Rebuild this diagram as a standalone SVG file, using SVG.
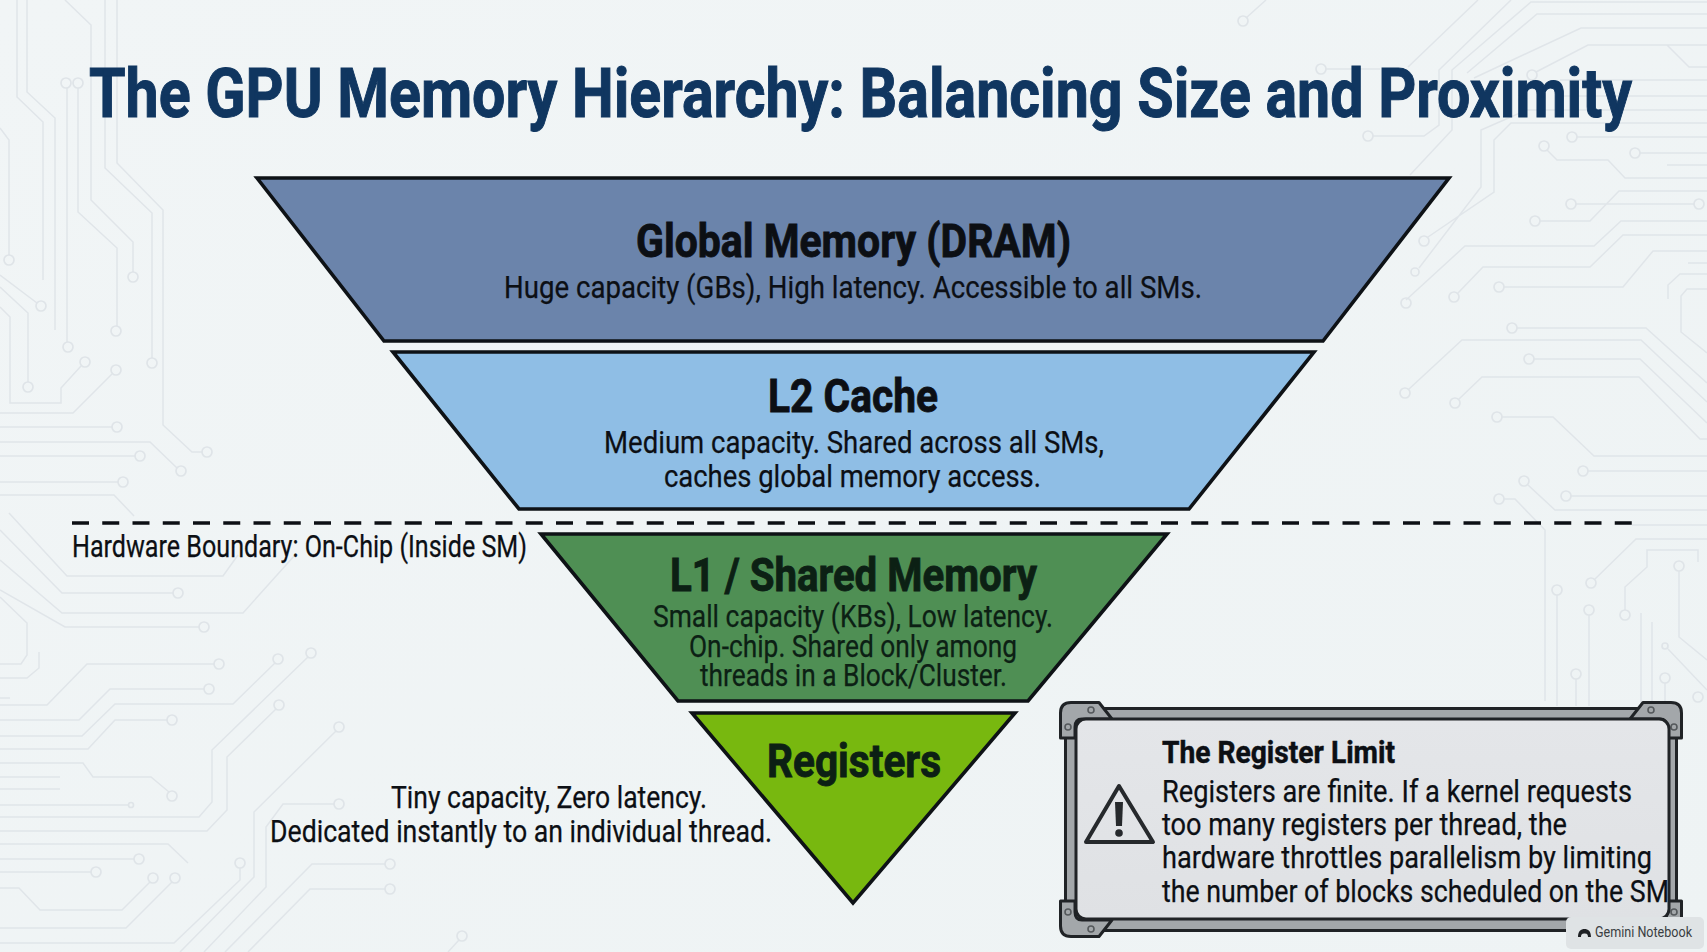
<svg xmlns="http://www.w3.org/2000/svg" width="1707" height="952" viewBox="0 0 1707 952">
<style>
text{font-family:Roboto,"Liberation Sans",sans-serif;fill:#0c0f14}
.h{font-size:47px;font-weight:700;stroke:#0c0f14;stroke-width:.9px}
.s{font-size:32px;font-weight:400;stroke:#0c0f14;stroke-width:.25px}
.c{font-size:31px;font-weight:400;stroke:#0c0f14;stroke-width:.25px}
.g{fill:#0c2014;stroke:#0c2014}
.tier{stroke:#0e1216;stroke-width:3.600;stroke-linejoin:miter}
.tr path{fill:none;stroke:#e0e5e9;stroke-width:1.5}
.tr circle{fill:none;stroke:#dfe4e8;stroke-width:1.7}
.metal{fill:#a3a7aa;stroke:#202326;stroke-width:3;stroke-linejoin:round}
.screw{fill:#a3a7aa;stroke:#55595c;stroke-width:1.6}
</style>
<defs>
<linearGradient id="bg" x1="0" y1="0" x2="1" y2="1"><stop offset="0" stop-color="#f1f5f6"/><stop offset="1" stop-color="#eef3f4"/></linearGradient>
<linearGradient id="pan" x1="0" y1="0" x2="0" y2="1"><stop offset="0" stop-color="#e4e6e9"/><stop offset="1" stop-color="#dfe1e4"/></linearGradient>
<g id="corner">
<path class="metal" d="M1060.500 738V713Q1060.500 702.500 1071 702.500H1099L1112 719H1082Q1075 719 1075 727V738Z"/>
<circle class="screw" cx="1091" cy="710" r="3"/>
<circle class="screw" cx="1068" cy="727" r="3"/>
</g>
</defs>
<rect id="background" width="1707" height="952" fill="url(#bg)"/>
<g id="circuit-traces" class="tr">
<path d="M17 0V97L43 122V280M27 0V92L55 118V330M65 0L91 25V200L133 242V272M105 0V168L152 213V358M117 0V163L163 210V425L192 452H202M67 88V342M78 88V212L117 248V326M0 128L9 140V255M0 275L37 303M0 287L28 313V382M0 307L10 317V403H61V388L81 366M0 413H73L112 374M0 427H112M0 442H150L177 468M0 456H135M0 482H118M0 495H114L134 516M9 513L67 576H223L238 555M0 530L62 593H173M0 560L62 613H243L295 555M0 590L65 627H199M0 597L27 623V655L21 664H0M39 652V668L27 678H0M0 698H10"/>
<path d="M0 705H47L87 664H214M0 720H79L110 689H204M0 736H82L115 704H233L275 663M0 749H88L115 720H167M0 763H83L93 777H151L169 792M0 777H60M0 789H60M0 805H129M0 817H199L212 802V750L308 657M0 831H207L227 810V757L276 709M0 844H168L188 863M0 859H134M0 872H91M0 888H19L40 910H122L150 882M0 928H126L172 882M0 943H174L240 880V868M180 952L254 877V812L336 731M204 952L266 887V827L283 804H334M225 952L312 864H385M248 952L310 889H385M448 952L459 940"/>
<path d="M1266 0L1246 18M1478 0L1408 67M1511 0L1439 70V125L1424 136H1373M1326 69H1380M1707 2H1531L1452 70V130L1410 175M1707 14H1537L1467 73M1707 28H1581L1474 78M1707 45H1588L1536 72M1588 45H1667L1689 67H1707M1707 80H1560M1707 96H1560M1707 110H1520M1707 123H1511L1494 140V192L1428 237M1520 113L1481 130V187L1419 268M1707 137H1577M1707 153H1640M1707 165H1667M1707 178H1625L1608 160H1557L1547 150M1576 204H1694M1707 191H1619L1590 221H1540M1707 221H1621L1594 246H1465L1406 300M1707 235H1623L1590 267H1483L1458 293M1707 251H1653L1623 287H1504M1707 263H1688M1668 299V285L1680 274H1707M1707 289H1687L1681 296V332L1707 353"/>
<path d="M1517 328H1646L1707 383M1409 389L1462 340H1641L1707 402M1534 359H1640L1707 423M1459 399L1482 377H1639L1700 439H1707M1502 417H1553L1594 456H1707M1588 471H1707M1571 496H1707M1528 485L1555 510H1707M1504 499H1515L1545 530V701M1632 525H1707M1595 579L1636 539H1707M1625 610V587L1647 567V550H1698V562M1679 571V637L1707 660M1557 595V706M1589 615V706M1641 613V706M1652 622V706M1576 679V706M1665 683V706M1668 649L1707 690"/>
<circle cx="9" cy="260" r="5"/><circle cx="133" cy="277" r="5"/><circle cx="41" cy="306" r="5"/><circle cx="116" cy="331" r="5"/><circle cx="68" cy="347" r="5"/><circle cx="152" cy="363" r="5"/><circle cx="85" cy="362" r="5"/><circle cx="116" cy="370" r="5"/><circle cx="28" cy="387" r="5"/><circle cx="117" cy="427" r="5"/><circle cx="207" cy="452" r="5"/><circle cx="140" cy="456" r="5"/><circle cx="181" cy="471" r="5"/><circle cx="123" cy="482" r="5"/><circle cx="66" cy="83" r="5"/><circle cx="78" cy="83" r="5"/><circle cx="178" cy="593" r="5"/><circle cx="204" cy="627" r="5"/>
<circle cx="219" cy="664" r="5"/><circle cx="209" cy="689" r="5"/><circle cx="278" cy="659" r="5"/><circle cx="172" cy="720" r="5"/><circle cx="172" cy="796" r="5"/><circle cx="131" cy="805" r="2.500"/><circle cx="311" cy="653" r="5"/><circle cx="279" cy="705" r="5"/><circle cx="139" cy="859" r="5"/><circle cx="96" cy="872" r="5"/><circle cx="153" cy="878" r="5"/><circle cx="175" cy="878" r="5"/><circle cx="240" cy="863" r="5"/><circle cx="339" cy="727" r="5"/><circle cx="339" cy="804" r="5"/><circle cx="390" cy="864" r="5"/><circle cx="390" cy="889" r="5"/><circle cx="462" cy="936" r="5"/>
<circle cx="1243" cy="21" r="5"/><circle cx="1368" cy="136" r="5"/><circle cx="1321" cy="69" r="5"/><circle cx="1532" cy="75" r="5"/><circle cx="1424" cy="241" r="5"/><circle cx="1415" cy="272" r="4"/><circle cx="1572" cy="137" r="5"/><circle cx="1635" cy="153" r="5"/><circle cx="1544" cy="146" r="5"/><circle cx="1571" cy="204" r="5"/><circle cx="1699" cy="204" r="5"/><circle cx="1535" cy="221" r="5"/><circle cx="1406" cy="303" r="5"/><circle cx="1454" cy="297" r="5"/><circle cx="1499" cy="287" r="5"/>
<circle cx="1512" cy="328" r="5"/><circle cx="1405" cy="393" r="5"/><circle cx="1529" cy="359" r="5"/><circle cx="1455" cy="403" r="5"/><circle cx="1497" cy="417" r="5"/><circle cx="1583" cy="471" r="5"/><circle cx="1566" cy="496" r="5"/><circle cx="1524" cy="481" r="5"/><circle cx="1499" cy="499" r="5"/><circle cx="1591" cy="583" r="5"/><circle cx="1625" cy="615" r="5"/><circle cx="1679" cy="566" r="5"/><circle cx="1557" cy="590" r="5"/><circle cx="1589" cy="610" r="5"/><circle cx="1576" cy="674" r="5"/><circle cx="1665" cy="678" r="5"/><circle cx="1665" cy="646" r="3"/><circle cx="1698" cy="697" r="5"/>
</g>
<text id="title" x="89" y="117" font-size="68" font-weight="700" style="fill:#103660;stroke:#103660;stroke-width:1px" textLength="1543" lengthAdjust="spacingAndGlyphs">The GPU Memory Hierarchy: Balancing Size and Proximity</text>
<g id="connectors">
<path d="M72 523H1632" fill="none" stroke="#0c0f14" stroke-width="3.600" stroke-dasharray="17 13.250"/>
</g>
<text id="boundary-label" class="c" x="72" y="557" textLength="455" lengthAdjust="spacingAndGlyphs">Hardware Boundary: On-Chip (Inside SM)</text>
<g id="node-global">
<polygon class="tier" fill="#6b84ab" points="257,178 1449,178 1323,341 384,341"/>
<text class="h" x="636" y="257" textLength="435" lengthAdjust="spacingAndGlyphs">Global Memory (DRAM)</text>
<text class="s" x="504" y="298" textLength="698" lengthAdjust="spacingAndGlyphs">Huge capacity (GBs), High latency. Accessible to all SMs.</text>
</g>
<g id="node-l2">
<polygon class="tier" fill="#8fbee5" points="393,352 1314,352 1189,509 519,509"/>
<text class="h" x="768" y="412" textLength="170" lengthAdjust="spacingAndGlyphs">L2 Cache</text>
<text class="s" x="604" y="453" textLength="500" lengthAdjust="spacingAndGlyphs">Medium capacity. Shared across all SMs,</text>
<text class="s" x="664" y="487" textLength="377" lengthAdjust="spacingAndGlyphs">caches global memory access.</text>
</g>
<g id="node-l1">
<polygon class="tier" fill="#4f8f54" points="541,534 1167,534 1028,701 678,701"/>
<text class="h g" x="670" y="591" textLength="367" lengthAdjust="spacingAndGlyphs">L1 / Shared Memory</text>
<text class="s g" x="653" y="627" textLength="400" lengthAdjust="spacingAndGlyphs">Small capacity (KBs), Low latency.</text>
<text class="s g" x="689" y="657" textLength="328" lengthAdjust="spacingAndGlyphs">On-chip. Shared only among</text>
<text class="s g" x="700" y="686" textLength="307" lengthAdjust="spacingAndGlyphs">threads in a Block/Cluster.</text>
</g>
<g id="node-registers">
<polygon class="tier" fill="#78b80f" points="692,713 1015,713 853,903"/>
<text class="h g" x="767" y="777" textLength="174" lengthAdjust="spacingAndGlyphs">Registers</text>
</g>
<g id="registers-note">
<text class="c" x="391" y="808" textLength="316" lengthAdjust="spacingAndGlyphs">Tiny capacity, Zero latency.</text>
<text class="c" x="270" y="842" textLength="502" lengthAdjust="spacingAndGlyphs">Dedicated instantly to an individual thread.</text>
</g>
<g id="node-callout">
<rect class="metal" x="1065.500" y="708.500" width="611" height="222"/>
<use href="#corner"/>
<use href="#corner" transform="matrix(-1 0 0 1 2742 0)"/>
<use href="#corner" transform="matrix(1 0 0 -1 0 1639)"/>
<use href="#corner" transform="matrix(-1 0 0 -1 2742 1639)"/>
<rect x="1076" y="719" width="593" height="200" rx="10" fill="url(#pan)" stroke="#202326" stroke-width="3"/>
<polygon points="1119,786 1153,842 1086,842" fill="none" stroke="#26292c" stroke-width="4" stroke-linejoin="round"/>
<path d="M1115 802H1123L1122 826H1116Z" fill="#26292c"/>
<circle cx="1119" cy="833" r="3.800" fill="#26292c"/>
<text x="1162" y="763" font-size="32" font-weight="700" stroke="#0c0f14" stroke-width=".5" textLength="233" lengthAdjust="spacingAndGlyphs">The Register Limit</text>
<text class="c" x="1162" y="802" textLength="470" lengthAdjust="spacingAndGlyphs">Registers are finite. If a kernel requests</text>
<text class="c" x="1162" y="835" textLength="405" lengthAdjust="spacingAndGlyphs">too many registers per thread, the</text>
<text class="c" x="1162" y="868" textLength="490" lengthAdjust="spacingAndGlyphs">hardware throttles parallelism by limiting</text>
<text class="c" x="1162" y="902" textLength="507" lengthAdjust="spacingAndGlyphs">the number of blocks scheduled on the SM</text>
</g>
<g id="watermark">
<rect x="1566" y="917" width="138" height="32" rx="5" fill="#dfe3e5"/>
<path d="M1578 937C1578 931 1581 929 1584.500 929C1588 929 1591 931 1591 937H1588C1588 934 1586.500 933.500 1584.500 933.500C1582.500 933.500 1581 934 1581 937Z" fill="#1e2124"/>
<text x="1595" y="937" font-size="14" textLength="97" lengthAdjust="spacingAndGlyphs" style="fill:#3a3e42">Gemini Notebook</text>
</g>
</svg>
